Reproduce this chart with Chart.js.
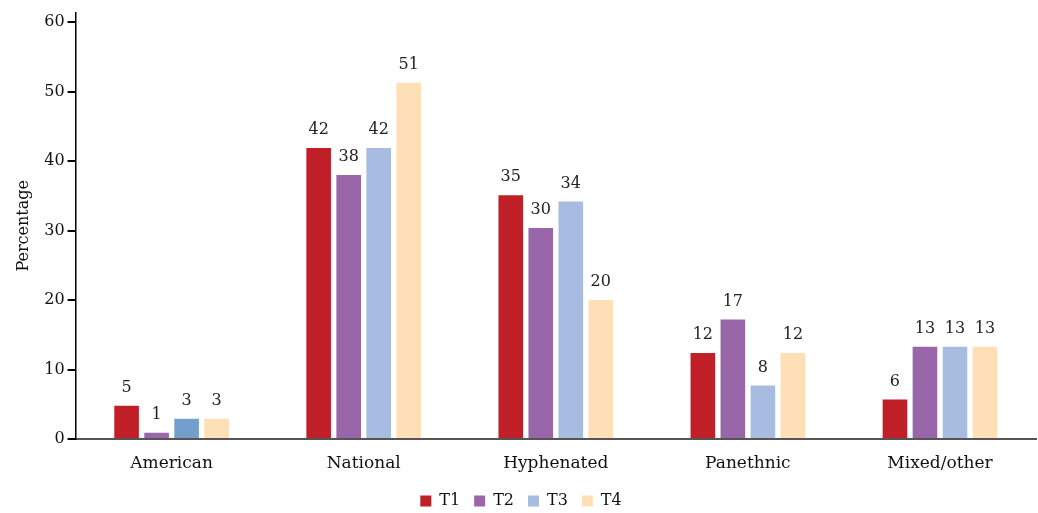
<!DOCTYPE html>
<html>
<head>
<meta charset="utf-8">
<script src="https://cdn.jsdelivr.net/npm/chart.js@4"></script>
<style>
  html, body { margin: 0; padding: 0; background: #fff; }
  #wrap { width: 1038px; height: 513px; }
</style>
</head>
<body>
<div id="wrap"><canvas id="myChart"></canvas></div>
<script>
const categories = ["American", "National", "Hyphenated", "Panethnic", "Mixed/other"];
const seriesNames = ["T1", "T2", "T3", "T4"];
const t1 = [4.8, 41.9, 35.1, 12.4, 5.7];
const t2 = [0.9, 38.0, 30.4, 17.2, 13.3];
const t3 = [2.9, 41.9, 34.2, 7.7, 13.3];
const t4 = [2.9, 51.3, 20.0, 12.4, 13.3];
const yTicks = [0, 10, 20, 30, 40, 50, 60];

const colors = ["#c01f28", "#9966aa", "#a8bbe0", "#fedfb6"];
// the American T3 bar is shaded darker in this series
const t3Colors = ["#739fcd", "#a8bbe0", "#a8bbe0", "#a8bbe0", "#a8bbe0"];

const font = "'DejaVu Serif', serif";

// value labels above each bar
const barLabels = {
  id: "barLabels",
  afterDatasetsDraw(chart) {
    const ctx = chart.ctx;
    ctx.save();
    ctx.font = "16px " + font;
    ctx.fillStyle = "#222";
    ctx.textAlign = "center";
    ctx.textBaseline = "bottom";
    chart.data.datasets.forEach((ds, i) => {
      chart.getDatasetMeta(i).data.forEach((bar, j) => {
        ctx.fillText(Math.round(ds.data[j]), bar.x, bar.y - 10);
      });
    });
    ctx.restore();
  }
};

const ctx = document.getElementById("myChart").getContext("2d");
const myChart = new Chart(ctx, {
  type: "bar",
  data: {
    labels: categories,
    datasets: [t1, t2, t3, t4].map((d, i) => ({
      label: seriesNames[i],
      data: d,
      backgroundColor: i === 2 ? t3Colors : colors[i],
      barPercentage: 0.82,
      categoryPercentage: 0.625,
    })),
  },
  options: {
    responsive: true,
    maintainAspectRatio: false,
    animation: false,
    layout: { padding: { left: 6, right: 2, top: 10, bottom: -6 } },
    scales: {
      x: {
        grid: { display: false },
        border: { color: "#555", width: 2 },
        ticks: { color: "#111", font: { family: font, size: 17 }, padding: 6 },
        afterFit: (scale) => { scale.height = 40; },
      },
      y: {
        min: 0,
        max: 61.4,
        afterBuildTicks: (scale) => {
          scale.ticks = yTicks.map((v) => ({ value: v }));
        },
        grid: { drawOnChartArea: false, drawTicks: true, tickLength: 8, color: "#000", lineWidth: 2 },
        border: { color: "#000", width: 1.5 },
        ticks: { color: "#111", font: { family: font, size: 16 }, padding: 3 },
        title: { display: true, text: "Percentage", color: "#111", font: { family: font, size: 16 }, padding: 8 },
      },
    },
    plugins: {
      legend: {
        position: "bottom",
        labels: {
          boxWidth: 11,
          boxHeight: 11,
          color: "#111",
          font: { family: font, size: 16 },
          padding: 14,
          generateLabels: (chart) =>
            chart.data.datasets.map((ds, i) => ({
              text: ds.label,
              fillStyle: colors[i],
              strokeStyle: colors[i],
              lineWidth: 0,
              fontColor: "#111",
              datasetIndex: i,
            })),
        },
      },
      tooltip: { enabled: false },
    },
  },
  plugins: [barLabels],
});
</script>
</body>
</html>
